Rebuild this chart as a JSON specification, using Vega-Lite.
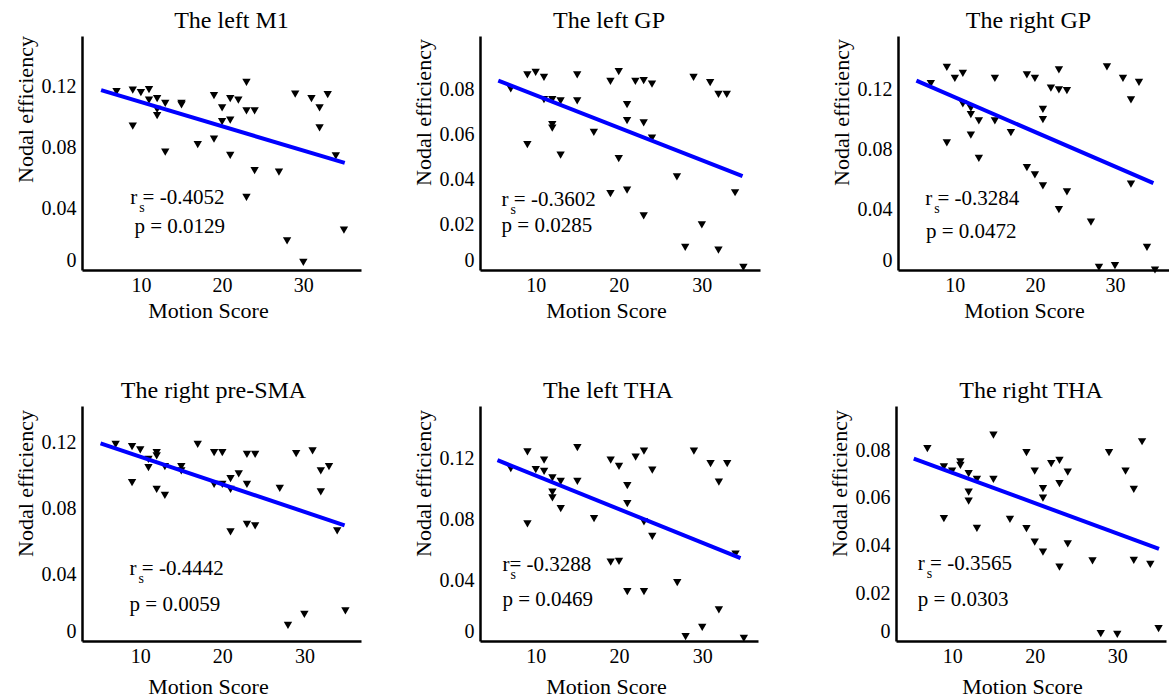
{
  "$schema": "https://vega.github.io/schema/vega-lite/v6.json",
  "padding": {"left": 14, "top": 8, "right": 0, "bottom": 0},
  "background": "white",
  "datasets": {
    "pts": [
      {"panel":"a","score":7,"eff":0.1167},{"panel":"a","score":9,"eff":0.1176},{"panel":"a","score":10,"eff":0.116},{"panel":"a","score":11,"eff":0.118},{"panel":"a","score":11,"eff":0.111},{"panel":"a","score":12,"eff":0.112},{"panel":"a","score":13,"eff":0.109},{"panel":"a","score":15,"eff":0.109},{"panel":"a","score":15,"eff":0.108},{"panel":"a","score":12,"eff":0.105},{"panel":"a","score":12,"eff":0.101},{"panel":"a","score":9,"eff":0.094},{"panel":"a","score":13,"eff":0.077},{"panel":"a","score":17,"eff":0.082},{"panel":"a","score":19,"eff":0.114},{"panel":"a","score":19,"eff":0.0855},{"panel":"a","score":20,"eff":0.106},{"panel":"a","score":20,"eff":0.097},{"panel":"a","score":21,"eff":0.112},{"panel":"a","score":21,"eff":0.098},{"panel":"a","score":21,"eff":0.075},{"panel":"a","score":22,"eff":0.111},{"panel":"a","score":23,"eff":0.1226},{"panel":"a","score":23,"eff":0.104},{"panel":"a","score":23,"eff":0.0475},{"panel":"a","score":24,"eff":0.104},{"panel":"a","score":24,"eff":0.065},{"panel":"a","score":27,"eff":0.064},{"panel":"a","score":28,"eff":0.019},{"panel":"a","score":29,"eff":0.115},{"panel":"a","score":30,"eff":0.005},{"panel":"a","score":31,"eff":0.112},{"panel":"a","score":32,"eff":0.106},{"panel":"a","score":32,"eff":0.093},{"panel":"a","score":33,"eff":0.1146},{"panel":"a","score":34,"eff":0.0747},{"panel":"a","score":35,"eff":0.026},
      {"panel":"b","score":7,"eff":0.0804},{"panel":"b","score":9,"eff":0.0866},{"panel":"b","score":10,"eff":0.0878},{"panel":"b","score":11,"eff":0.0855},{"panel":"b","score":11,"eff":0.0756},{"panel":"b","score":12,"eff":0.0756},{"panel":"b","score":13,"eff":0.0751},{"panel":"b","score":12,"eff":0.0645},{"panel":"b","score":12,"eff":0.063},{"panel":"b","score":9,"eff":0.0557},{"panel":"b","score":13,"eff":0.051},{"panel":"b","score":15,"eff":0.0751},{"panel":"b","score":15,"eff":0.0866},{"panel":"b","score":17,"eff":0.0611},{"panel":"b","score":19,"eff":0.0837},{"panel":"b","score":19,"eff":0.0339},{"panel":"b","score":20,"eff":0.0881},{"panel":"b","score":20,"eff":0.0494},{"panel":"b","score":21,"eff":0.0734},{"panel":"b","score":21,"eff":0.0663},{"panel":"b","score":21,"eff":0.0355},{"panel":"b","score":22,"eff":0.0837},{"panel":"b","score":23,"eff":0.0841},{"panel":"b","score":23,"eff":0.0653},{"panel":"b","score":23,"eff":0.024},{"panel":"b","score":24,"eff":0.0825},{"panel":"b","score":24,"eff":0.0586},{"panel":"b","score":27,"eff":0.0413},{"panel":"b","score":28,"eff":0.01},{"panel":"b","score":29,"eff":0.0855},{"panel":"b","score":30,"eff":0.02},{"panel":"b","score":31,"eff":0.0832},{"panel":"b","score":32,"eff":0.078},{"panel":"b","score":32,"eff":0.0088},{"panel":"b","score":33,"eff":0.078},{"panel":"b","score":34,"eff":0.0343},{"panel":"b","score":35,"eff":0.0012},
      {"panel":"c","score":7,"eff":0.124},{"panel":"c","score":9,"eff":0.1347},{"panel":"c","score":9,"eff":0.0846},{"panel":"c","score":10,"eff":0.1275},{"panel":"c","score":11,"eff":0.1308},{"panel":"c","score":11,"eff":0.1105},{"panel":"c","score":12,"eff":0.1077},{"panel":"c","score":12,"eff":0.1033},{"panel":"c","score":12,"eff":0.0897},{"panel":"c","score":13,"eff":0.0991},{"panel":"c","score":13,"eff":0.0743},{"panel":"c","score":15,"eff":0.1275},{"panel":"c","score":15,"eff":0.0991},{"panel":"c","score":17,"eff":0.0914},{"panel":"c","score":19,"eff":0.1297},{"panel":"c","score":19,"eff":0.0681},{"panel":"c","score":20,"eff":0.1275},{"panel":"c","score":20,"eff":0.0633},{"panel":"c","score":21,"eff":0.1068},{"panel":"c","score":21,"eff":0.1},{"panel":"c","score":21,"eff":0.056},{"panel":"c","score":22,"eff":0.1209},{"panel":"c","score":23,"eff":0.133},{"panel":"c","score":23,"eff":0.1198},{"panel":"c","score":23,"eff":0.0402},{"panel":"c","score":24,"eff":0.1193},{"panel":"c","score":24,"eff":0.0519},{"panel":"c","score":27,"eff":0.0319},{"panel":"c","score":28,"eff":0.0018},{"panel":"c","score":29,"eff":0.135},{"panel":"c","score":30,"eff":0.0029},{"panel":"c","score":31,"eff":0.1275},{"panel":"c","score":32,"eff":0.1132},{"panel":"c","score":32,"eff":0.0571},{"panel":"c","score":33,"eff":0.1248},{"panel":"c","score":34,"eff":0.015},{"panel":"c","score":35,"eff":0.0},
      {"panel":"d","score":7,"eff":0.119},{"panel":"d","score":9,"eff":0.1176},{"panel":"d","score":9,"eff":0.0958},{"panel":"d","score":10,"eff":0.1156},{"panel":"d","score":11,"eff":0.1099},{"panel":"d","score":11,"eff":0.1049},{"panel":"d","score":12,"eff":0.114},{"panel":"d","score":12,"eff":0.112},{"panel":"d","score":12,"eff":0.0918},{"panel":"d","score":13,"eff":0.1055},{"panel":"d","score":13,"eff":0.0881},{"panel":"d","score":15,"eff":0.1055},{"panel":"d","score":15,"eff":0.1029},{"panel":"d","score":17,"eff":0.119},{"panel":"d","score":19,"eff":0.114},{"panel":"d","score":19,"eff":0.0948},{"panel":"d","score":20,"eff":0.114},{"panel":"d","score":20,"eff":0.0948},{"panel":"d","score":21,"eff":0.0982},{"panel":"d","score":21,"eff":0.0918},{"panel":"d","score":21,"eff":0.066},{"panel":"d","score":22,"eff":0.1012},{"panel":"d","score":23,"eff":0.113},{"panel":"d","score":23,"eff":0.0948},{"panel":"d","score":23,"eff":0.0706},{"panel":"d","score":24,"eff":0.113},{"panel":"d","score":24,"eff":0.0696},{"panel":"d","score":27,"eff":0.0924},{"panel":"d","score":28,"eff":0.0095},{"panel":"d","score":29,"eff":0.1134},{"panel":"d","score":30,"eff":0.0161},{"panel":"d","score":31,"eff":0.115},{"panel":"d","score":32,"eff":0.1029},{"panel":"d","score":32,"eff":0.0902},{"panel":"d","score":33,"eff":0.1055},{"panel":"d","score":34,"eff":0.0666},{"panel":"d","score":35,"eff":0.0182},
      {"panel":"e","score":7,"eff":0.1136},{"panel":"e","score":9,"eff":0.1246},{"panel":"e","score":9,"eff":0.0771},{"panel":"e","score":10,"eff":0.1129},{"panel":"e","score":11,"eff":0.1191},{"panel":"e","score":11,"eff":0.1118},{"panel":"e","score":12,"eff":0.1074},{"panel":"e","score":12,"eff":0.098},{"panel":"e","score":12,"eff":0.0942},{"panel":"e","score":13,"eff":0.1052},{"panel":"e","score":13,"eff":0.0872},{"panel":"e","score":15,"eff":0.1273},{"panel":"e","score":15,"eff":0.1052},{"panel":"e","score":17,"eff":0.0806},{"panel":"e","score":19,"eff":0.1191},{"panel":"e","score":19,"eff":0.052},{"panel":"e","score":20,"eff":0.1151},{"panel":"e","score":20,"eff":0.0524},{"panel":"e","score":21,"eff":0.1024},{"panel":"e","score":21,"eff":0.0905},{"panel":"e","score":21,"eff":0.0326},{"panel":"e","score":22,"eff":0.1211},{"panel":"e","score":23,"eff":0.125},{"panel":"e","score":23,"eff":0.0784},{"panel":"e","score":23,"eff":0.0326},{"panel":"e","score":24,"eff":0.1125},{"panel":"e","score":24,"eff":0.0689},{"panel":"e","score":27,"eff":0.0385},{"panel":"e","score":28,"eff":0.0029},{"panel":"e","score":29,"eff":0.125},{"panel":"e","score":30,"eff":0.009},{"panel":"e","score":31,"eff":0.1169},{"panel":"e","score":32,"eff":0.1046},{"panel":"e","score":32,"eff":0.0205},{"panel":"e","score":33,"eff":0.1169},{"panel":"e","score":34,"eff":0.0572},{"panel":"e","score":35,"eff":0.0018},
      {"panel":"f","score":7,"eff":0.0807},{"panel":"f","score":9,"eff":0.0731},{"panel":"f","score":9,"eff":0.0513},{"panel":"f","score":10,"eff":0.0713},{"panel":"f","score":11,"eff":0.0752},{"panel":"f","score":11,"eff":0.0737},{"panel":"f","score":12,"eff":0.0702},{"panel":"f","score":12,"eff":0.0625},{"panel":"f","score":12,"eff":0.0587},{"panel":"f","score":13,"eff":0.0678},{"panel":"f","score":13,"eff":0.0473},{"panel":"f","score":15,"eff":0.0864},{"panel":"f","score":15,"eff":0.0678},{"panel":"f","score":17,"eff":0.051},{"panel":"f","score":19,"eff":0.079},{"panel":"f","score":19,"eff":0.0471},{"panel":"f","score":20,"eff":0.0713},{"panel":"f","score":20,"eff":0.0415},{"panel":"f","score":21,"eff":0.0639},{"panel":"f","score":21,"eff":0.0599},{"panel":"f","score":21,"eff":0.0373},{"panel":"f","score":22,"eff":0.0744},{"panel":"f","score":23,"eff":0.0758},{"panel":"f","score":23,"eff":0.066},{"panel":"f","score":23,"eff":0.031},{"panel":"f","score":24,"eff":0.0709},{"panel":"f","score":24,"eff":0.0408},{"panel":"f","score":27,"eff":0.0336},{"panel":"f","score":28,"eff":0.0031},{"panel":"f","score":29,"eff":0.079},{"panel":"f","score":30,"eff":0.0028},{"panel":"f","score":31,"eff":0.0713},{"panel":"f","score":32,"eff":0.0636},{"panel":"f","score":32,"eff":0.0338},{"panel":"f","score":33,"eff":0.0836},{"panel":"f","score":34,"eff":0.0322},{"panel":"f","score":35,"eff":0.0052}
    ],
    "fits": [
      {"panel":"a","score":5.1,"eff":0.1176},{"panel":"a","score":35.1,"eff":0.070},
      {"panel":"b","score":5.5,"eff":0.0841},{"panel":"b","score":34.9,"eff":0.0417},
      {"panel":"c","score":5.2,"eff":0.1259},{"panel":"c","score":34.8,"eff":0.0578},
      {"panel":"d","score":5.16,"eff":0.1196},{"panel":"d","score":34.9,"eff":0.070},
      {"panel":"e","score":5.4,"eff":0.1191},{"panel":"e","score":34.6,"eff":0.0546},
      {"panel":"f","score":5.35,"eff":0.0765},{"panel":"f","score":35.05,"eff":0.0387}
    ],
    "ann": [
      {"panel":"a","kind":"r","score":8.7,"eff":0.0431,"label":"r  = -0.4052"},
      {"panel":"a","kind":"p","score":9.2,"eff":0.0242,"label":"p = 0.0129"},
      {"panel":"b","kind":"r","score":5.9,"eff":0.0284,"label":"r  = -0.3602"},
      {"panel":"b","kind":"p","score":5.9,"eff":0.0169,"label":"p = 0.0285"},
      {"panel":"c","kind":"r","score":6.3,"eff":0.0429,"label":"r  = -0.3284"},
      {"panel":"c","kind":"p","score":6.4,"eff":0.0211,"label":"p = 0.0472"},
      {"panel":"d","kind":"r","score":8.7,"eff":0.0397,"label":"r  = -0.4442"},
      {"panel":"d","kind":"p","score":8.7,"eff":0.0182,"label":"p = 0.0059"},
      {"panel":"e","kind":"r","score":6.0,"eff":0.0462,"label":"r= -0.3288"},
      {"panel":"e","kind":"p","score":6.0,"eff":0.0233,"label":"p = 0.0469"},
      {"panel":"f","kind":"r","score":5.84,"eff":0.0297,"label":"r  = -0.3565"},
      {"panel":"f","kind":"p","score":5.84,"eff":0.0147,"label":"p = 0.0303"}
    ]
  },
  "vconcat": [
    {
      "spacing": 70,
      "hconcat": [
        {
          "spacing": 51,
          "hconcat": [
            {
              "width": 279, "height": 234,
              "title": {"text": "The left M1", "dx": 10},
              "encoding": {
                "x": {"field": "score", "type": "quantitative", "scale": {"domain": [2.75, 37.1], "nice": false, "zero": false}, "axis": {"values": [10, 20, 30], "title": "Motion Score", "titlePadding": 5}},
                "y": {"field": "eff", "type": "quantitative", "scale": {"domain": [0, 0.153], "nice": false}, "axis": {"values": [0, 0.04, 0.08, 0.12], "title": "Nodal efficiency", "titleY": 73, "labelExpr": "datum.value == 0 ? '0' : format(datum.value, '.2f')"}}
              },
              "layer": [
                {"data": {"name": "pts"}, "transform": [{"filter": "datum.panel == 'a'"}], "mark": {"type": "point", "shape": "triangle-down", "filled": true, "color": "black", "opacity": 1, "size": 70}},
                {"data": {"name": "fits"}, "transform": [{"filter": "datum.panel == 'a'"}], "mark": {"type": "line", "color": "#0000ff", "strokeWidth": 4}, "encoding": {}},
                {"data": {"name": "ann"}, "transform": [{"filter": "datum.panel == 'a'"}], "mark": {"type": "text", "align": "left", "baseline": "alphabetic", "font": "Liberation Serif", "fontSize": 21, "color": "black"}, "encoding": {"text": {"field": "label"}}},
                {"data": {"name": "ann"}, "transform": [{"filter": "datum.panel == 'a' && datum.kind == 'r'"}], "mark": {"type": "text", "text": "s", "align": "left", "baseline": "alphabetic", "font": "Liberation Serif", "fontSize": 14, "dx": 9, "dy": 8, "color": "black"}}
              ]
            },
            {
              "width": 280, "height": 234,
              "title": {"text": "The left GP", "dx": -11},
              "encoding": {
                "x": {"field": "score", "type": "quantitative", "scale": {"domain": [3.3, 37.0], "nice": false, "zero": false}, "axis": {"values": [10, 20, 30], "title": "Motion Score", "titlePadding": 5}},
                "y": {"field": "eff", "type": "quantitative", "scale": {"domain": [0, 0.1039], "nice": false}, "axis": {"values": [0, 0.02, 0.04, 0.06, 0.08], "title": "Nodal efficiency", "titleY": 76, "labelExpr": "datum.value == 0 ? '0' : format(datum.value, '.2f')"}}
              },
              "layer": [
                {"data": {"name": "pts"}, "transform": [{"filter": "datum.panel == 'b'"}], "mark": {"type": "point", "shape": "triangle-down", "filled": true, "color": "black", "opacity": 1, "size": 70}},
                {"data": {"name": "fits"}, "transform": [{"filter": "datum.panel == 'b'"}], "mark": {"type": "line", "color": "#0000ff", "strokeWidth": 4}, "encoding": {}},
                {"data": {"name": "ann"}, "transform": [{"filter": "datum.panel == 'b'"}], "mark": {"type": "text", "align": "left", "baseline": "alphabetic", "font": "Liberation Serif", "fontSize": 21, "color": "black"}, "encoding": {"text": {"field": "label"}}},
                {"data": {"name": "ann"}, "transform": [{"filter": "datum.panel == 'b' && datum.kind == 'r'"}], "mark": {"type": "text", "text": "s", "align": "left", "baseline": "alphabetic", "font": "Liberation Serif", "fontSize": 14, "dx": 9, "dy": 8, "color": "black"}}
              ]
            }
          ]
        },
        {
          "width": 271, "height": 234,
          "title": {"text": "The right GP", "dx": -5},
          "encoding": {
            "x": {"field": "score", "type": "quantitative", "scale": {"domain": [2.9, 36.75], "nice": false, "zero": false}, "axis": {"values": [10, 20, 30], "title": "Motion Score", "titlePadding": 5}},
            "y": {"field": "eff", "type": "quantitative", "scale": {"domain": [0, 0.1556], "nice": false}, "axis": {"values": [0, 0.04, 0.08, 0.12], "title": "Nodal efficiency", "titleY": 76, "labelExpr": "datum.value == 0 ? '0' : format(datum.value, '.2f')"}}
          },
          "layer": [
            {"data": {"name": "pts"}, "transform": [{"filter": "datum.panel == 'c'"}], "mark": {"type": "point", "shape": "triangle-down", "filled": true, "color": "black", "opacity": 1, "size": 70}},
            {"data": {"name": "fits"}, "transform": [{"filter": "datum.panel == 'c'"}], "mark": {"type": "line", "color": "#0000ff", "strokeWidth": 4}, "encoding": {}},
            {"data": {"name": "ann"}, "transform": [{"filter": "datum.panel == 'c'"}], "mark": {"type": "text", "align": "left", "baseline": "alphabetic", "font": "Liberation Serif", "fontSize": 21, "color": "black"}, "encoding": {"text": {"field": "label"}}},
            {"data": {"name": "ann"}, "transform": [{"filter": "datum.panel == 'c' && datum.kind == 'r'"}], "mark": {"type": "text", "text": "s", "align": "left", "baseline": "alphabetic", "font": "Liberation Serif", "fontSize": 14, "dx": 9, "dy": 8, "color": "black"}}
          ]
        }
      ]
    },
    {
      "spacing": 70,
      "hconcat": [
        {
          "spacing": 51,
          "hconcat": [
            {
              "width": 279, "height": 235,
              "title": {"text": "The right pre-SMA", "dx": -8},
              "encoding": {
                "x": {"field": "score", "type": "quantitative", "scale": {"domain": [2.9, 36.9], "nice": false, "zero": false}, "axis": {"values": [10, 20, 30], "title": "Motion Score", "titlePadding": 10}},
                "y": {"field": "eff", "type": "quantitative", "scale": {"domain": [0, 0.1422], "nice": false}, "axis": {"values": [0, 0.04, 0.08, 0.12], "title": "Nodal efficiency", "titleY": 77, "labelExpr": "datum.value == 0 ? '0' : format(datum.value, '.2f')"}}
              },
              "layer": [
                {"data": {"name": "pts"}, "transform": [{"filter": "datum.panel == 'd'"}], "mark": {"type": "point", "shape": "triangle-down", "filled": true, "color": "black", "opacity": 1, "size": 70}},
                {"data": {"name": "fits"}, "transform": [{"filter": "datum.panel == 'd'"}], "mark": {"type": "line", "color": "#0000ff", "strokeWidth": 4}, "encoding": {}},
                {"data": {"name": "ann"}, "transform": [{"filter": "datum.panel == 'd'"}], "mark": {"type": "text", "align": "left", "baseline": "alphabetic", "font": "Liberation Serif", "fontSize": 21, "color": "black"}, "encoding": {"text": {"field": "label"}}},
                {"data": {"name": "ann"}, "transform": [{"filter": "datum.panel == 'd' && datum.kind == 'r'"}], "mark": {"type": "text", "text": "s", "align": "left", "baseline": "alphabetic", "font": "Liberation Serif", "fontSize": 14, "dx": 9, "dy": 8, "color": "black"}}
              ]
            },
            {
              "width": 278, "height": 235,
              "title": {"text": "The left THA", "dx": -11},
              "encoding": {
                "x": {"field": "score", "type": "quantitative", "scale": {"domain": [3.3, 36.7], "nice": false, "zero": false}, "axis": {"values": [10, 20, 30], "title": "Motion Score", "titlePadding": 10}},
                "y": {"field": "eff", "type": "quantitative", "scale": {"domain": [0, 0.1548], "nice": false}, "axis": {"values": [0, 0.04, 0.08, 0.12], "title": "Nodal efficiency", "titleY": 77, "labelExpr": "datum.value == 0 ? '0' : format(datum.value, '.2f')"}}
              },
              "layer": [
                {"data": {"name": "pts"}, "transform": [{"filter": "datum.panel == 'e'"}], "mark": {"type": "point", "shape": "triangle-down", "filled": true, "color": "black", "opacity": 1, "size": 70}},
                {"data": {"name": "fits"}, "transform": [{"filter": "datum.panel == 'e'"}], "mark": {"type": "line", "color": "#0000ff", "strokeWidth": 4}, "encoding": {}},
                {"data": {"name": "ann"}, "transform": [{"filter": "datum.panel == 'e'"}], "mark": {"type": "text", "align": "left", "baseline": "alphabetic", "font": "Liberation Serif", "fontSize": 21, "color": "black"}, "encoding": {"text": {"field": "label"}}},
                {"data": {"name": "ann"}, "transform": [{"filter": "datum.panel == 'e' && datum.kind == 'r'"}], "mark": {"type": "text", "text": "s", "align": "left", "baseline": "alphabetic", "font": "Liberation Serif", "fontSize": 14, "dx": 8, "dy": 8, "color": "black"}}
              ]
            }
          ]
        },
        {
          "width": 270, "height": 235,
          "title": {"text": "The right THA", "dx": 0},
          "encoding": {
            "x": {"field": "score", "type": "quantitative", "scale": {"domain": [3.2, 35.9], "nice": false, "zero": false}, "axis": {"values": [10, 20, 30], "title": "Motion Score", "titlePadding": 10}},
            "y": {"field": "eff", "type": "quantitative", "scale": {"domain": [0, 0.0986], "nice": false}, "axis": {"values": [0, 0.02, 0.04, 0.06, 0.08], "title": "Nodal efficiency", "titleY": 77, "labelExpr": "datum.value == 0 ? '0' : format(datum.value, '.2f')"}}
          },
          "layer": [
            {"data": {"name": "pts"}, "transform": [{"filter": "datum.panel == 'f'"}], "mark": {"type": "point", "shape": "triangle-down", "filled": true, "color": "black", "opacity": 1, "size": 70}},
            {"data": {"name": "fits"}, "transform": [{"filter": "datum.panel == 'f'"}], "mark": {"type": "line", "color": "#0000ff", "strokeWidth": 4}, "encoding": {}},
            {"data": {"name": "ann"}, "transform": [{"filter": "datum.panel == 'f'"}], "mark": {"type": "text", "align": "left", "baseline": "alphabetic", "font": "Liberation Serif", "fontSize": 21, "color": "black"}, "encoding": {"text": {"field": "label"}}},
            {"data": {"name": "ann"}, "transform": [{"filter": "datum.panel == 'f' && datum.kind == 'r'"}], "mark": {"type": "text", "text": "s", "align": "left", "baseline": "alphabetic", "font": "Liberation Serif", "fontSize": 14, "dx": 9, "dy": 8, "color": "black"}}
          ]
        }
      ]
    }
  ],
  "spacing": 58,
  "config": {
    "view": {"stroke": null},
    "font": "Liberation Serif",
    "axis": {"domainColor": "black", "domainWidth": 2.5, "ticks": false, "tickSize": 0, "grid": false, "labelFont": "Liberation Serif", "labelFontSize": 20, "labelColor": "black", "titleFont": "Liberation Serif", "titleFontSize": 22, "titleFontWeight": "normal", "titleColor": "black"},
    "axisX": {"labelPadding": 5, "titleX": 126},
    "axisY": {"labelPadding": 6, "titlePadding": 4, "labelFlush": true},
    "title": {"font": "Liberation Serif", "fontSize": 24, "fontWeight": "normal", "color": "black", "offset": 3, "baseline": "alphabetic", "anchor": "middle", "frame": "group"}
  }
}
